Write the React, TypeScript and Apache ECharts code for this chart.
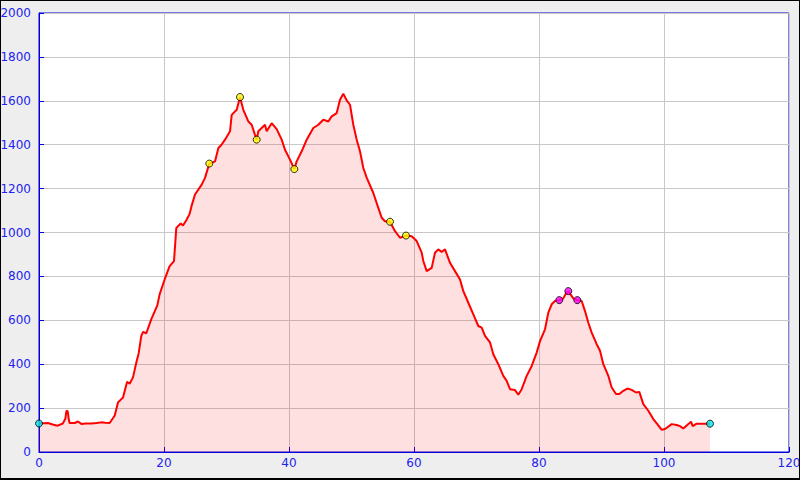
import React, { useEffect, useRef } from "react";
import * as echarts from "echarts";

const distKm = [
  0, 1.4, 2.2, 3.0, 3.8, 4.2, 4.4, 4.6, 4.75, 4.9, 5.7, 6.24, 6.77, 7.5, 8.37, 9.2, 9.97, 10.6, 11.3,
  12.1, 12.64, 13.44, 14.1, 14.5, 15.04, 15.57, 15.95, 16.37, 16.64, 17.17, 17.97, 18.93, 19.3,
  20.1, 20.9, 21.6, 21.97, 22.67, 23.04, 23.57, 24.1, 24.4, 24.96, 26.03, 26.56, 27.25, 28.16,
  28.7, 29.2, 29.76, 30.56, 30.83, 31.63, 32.16, 32.69, 33.49, 34.03, 34.56, 34.83, 35.09, 36.16,
  36.43, 37.23, 38.03, 38.83, 39.36, 40.16, 40.85, 41.23, 42.03, 42.83, 43.89, 44.69, 45.49,
  46.29, 46.83, 47.63, 48.16, 48.69, 49.23, 49.76, 50.29, 50.83, 51.36, 51.89, 52.43, 52.96,
  53.49, 54.29, 54.83, 55.36, 56.16, 56.96, 57.76, 58.72, 59.63, 60.43, 61.23, 61.49, 62.03,
  62.83, 63.36, 63.89, 64.43, 64.96, 65.76, 66.56, 67.36, 67.89, 68.69, 69.49, 70.29, 70.83,
  71.36, 72.16, 72.69, 73.49, 74.29, 74.83, 75.36, 76.16, 76.69, 77.23, 78.03, 78.83, 79.63,
  80.16, 80.96, 81.49, 82.03, 82.56, 83.25, 83.89, 84.32, 84.69, 85.49, 86.13, 86.83, 87.36,
  87.89, 88.43, 89.23, 89.76, 90.29, 91.09, 91.63, 92.32, 92.85, 93.49, 94.13, 94.83, 95.52,
  96.05, 96.69, 97.49, 98.29, 98.93, 99.63, 100.16, 101.23, 102.03, 102.56, 103.09, 103.89,
  104.32, 104.59, 105.23, 106.56, 107.36,
];

const elevM = [
  130, 132, 125, 120, 130, 150, 188, 185, 150, 132, 132, 139, 128, 130, 130, 132, 135, 133, 132,
  165, 226, 248, 320, 311, 340, 408, 450, 529, 547, 541, 605, 668, 718,
  786, 847, 870, 1021, 1041, 1032, 1056, 1085, 1120, 1173, 1218, 1249, 1314, 1324,
  1385, 1400, 1423, 1461, 1536, 1559, 1617, 1559, 1506, 1491, 1445, 1423, 1461, 1491,
  1461, 1498, 1471, 1423, 1377, 1332, 1289, 1324, 1370, 1423, 1476, 1491, 1514,
  1506, 1529, 1544, 1605, 1632, 1602, 1582, 1491, 1423, 1370, 1294, 1250, 1215,
  1180, 1112, 1067, 1051, 1049, 1006, 976, 986, 983, 961, 908, 870, 824,
  839, 908, 923, 911, 923, 862, 824, 786, 733, 680, 627, 574, 567,
  529, 499, 445, 400, 347, 324, 286, 282, 261, 286, 347, 392, 453,
  505, 559, 635, 673, 688, 692, 700, 723, 733, 700, 692, 688, 642,
  589, 544, 491, 461, 400, 347, 294, 264, 264, 279, 289, 283, 271,
  274, 218, 188, 150, 127, 101, 105, 127, 123, 118, 107, 127,
  138, 118, 129, 129, 129,
];

const yellowPts: [number, number][] = [
  [27.25, 1314], [32.16, 1617], [34.83, 1423], [40.85, 1289], [56.16, 1049], [58.72, 986],
];
const magentaPts: [number, number][] = [
  [83.25, 692], [84.69, 733], [86.13, 692],
];
const cyanPts: [number, number][] = [
  [0, 130], [107.36, 129],
];

const xTicks = { min: 0, max: 120, interval: 20 };
const yTicks = { min: 0, max: 2000, interval: 200 };

export default function App() {
  const ref = useRef<HTMLDivElement>(null);
  useEffect(() => {
    if (!ref.current) return;
    const chart = echarts.init(ref.current, undefined, { renderer: "svg" });
    const profile = distKm.map((d, i) => [d, elevM[i]]);
    const blue = "#0000dd";
    const labelBlue = "#2222ee";
    const markerSeries = (data: [number, number][], color: string) => ({
      type: "scatter",
      data,
      symbol: "circle",
      symbolSize: 7,
      itemStyle: { color, borderColor: "#000", borderWidth: 1 },
      z: 5,
    });
    chart.setOption({
      animation: false,
      backgroundColor: "#eeeeee",
      grid: {
        left: 38,
        right: 10,
        top: 12,
        bottom: 26,
        containLabel: false,
        outerBoundsMode: "none",
        show: true,
        backgroundColor: "#ffffff",
        borderColor: blue,
        borderWidth: 1,
      },
      xAxis: {
        type: "value",
        min: xTicks.min,
        max: xTicks.max,
        interval: xTicks.interval,
        axisLine: { show: true, lineStyle: { color: blue, width: 1 } },
        axisTick: { show: true, inside: true, length: 5, lineStyle: { color: blue } },
        axisLabel: {
          color: labelBlue,
          fontFamily: "DejaVu Sans",
          fontSize: 12,
          margin: 5,
          formatter: (v: number) => String(v),
        },
        splitLine: { show: true, lineStyle: { color: "#c8c8c8", width: 1 } },
      },
      yAxis: {
        type: "value",
        min: yTicks.min,
        max: yTicks.max,
        interval: yTicks.interval,
        axisLine: { show: true, lineStyle: { color: blue, width: 1 } },
        axisTick: { show: true, inside: true, length: 5, lineStyle: { color: blue } },
        axisLabel: {
          color: labelBlue,
          fontFamily: "DejaVu Sans",
          fontSize: 12,
          margin: 8,
          formatter: (v: number) => String(v),
        },
        splitLine: { show: true, lineStyle: { color: "#c8c8c8", width: 1 } },
      },
      series: [
        {
          type: "line",
          data: profile,
          showSymbol: false,
          symbol: "none",
          lineStyle: { color: "#ff0000", width: 2 },
          areaStyle: { color: "rgba(255,0,0,0.12)", opacity: 1 },
          z: 3,
        },
        markerSeries(yellowPts, "#ffff00"),
        markerSeries(magentaPts, "#ff00ff"),
        markerSeries(cyanPts, "#00e5ee"),
      ],
    });
    return () => chart.dispose();
  }, []);
  return (
    <div
      style={{
        position: "absolute",
        left: 0,
        top: 0,
        width: 800,
        height: 480,
        boxSizing: "border-box",
        border: "1px solid #000",
        borderBottomWidth: 2,
        background: "#eeeeee",
      }}
    >
      <div ref={ref} style={{ width: 798, height: 477 }} />
    </div>
  );
}
